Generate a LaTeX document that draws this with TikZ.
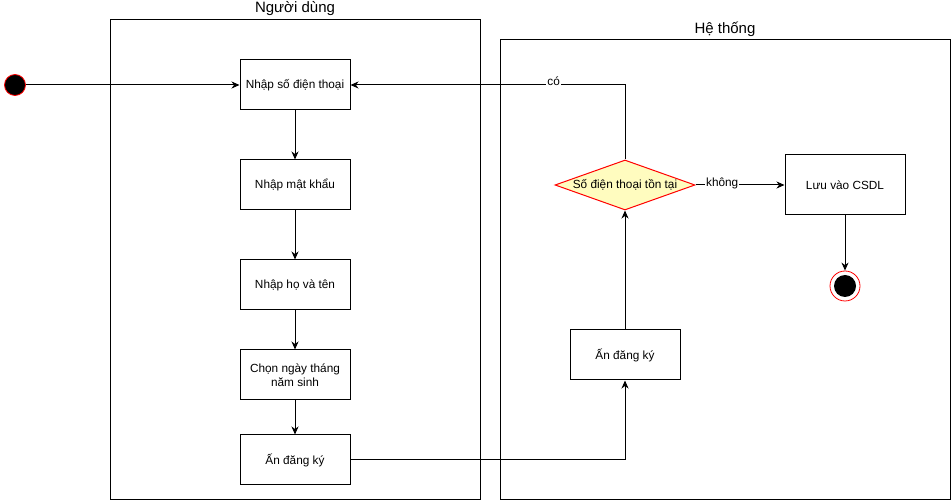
\documentclass[tikz,border=0pt]{standalone}
\usepackage{fontspec}
\setmainfont{Liberation Sans}
\usetikzlibrary{shapes.geometric, arrows.meta}

\begin{document}
\begin{tikzpicture}[x=1pt, y=-1pt, line width=1pt,
    every node/.style={font=\fontsize{11.8}{14}\selectfont},
    act/.style={draw, minimum width=110pt, minimum height=50pt, align=center},
    lane/.style={draw},
    title/.style={font=\fontsize{15}{17}\selectfont},
    lbl/.style={fill=white, inner sep=1pt, font=\fontsize{11.8}{14}\selectfont},
    arr/.style={-{Stealth[length=8pt, width=7pt, inset=2.5pt]}}]
      \useasboundingbox (0, 0) rectangle (951, 502);

      % swimlanes
      \draw[lane] (110, 20) rectangle (480, 500);
      \draw[lane] (500, 40) rectangle (950, 500);
      \node[title] (user) at (295, 9) {Người dùng};
      \node[title] (sys) at (725, 29) {Hệ thống};

      % user side
      \node[circle, draw=red, fill=black, minimum size=21pt, inner sep=0pt, line width=0.8pt] (start) at (15, 85) {};
      \node[act] (phone) at (295, 85) {Nhập số điện thoại};
      \node[act] (pass) at (295, 185) {Nhập mật khẩu};
      \node[act] (name) at (295, 285) {Nhập họ và tên};
      \node[act] (dob) at (295, 375) {Chọn ngày tháng\\năm sinh};
      \node[act] (reg) at (295, 460) {Ấn đăng ký};

      % system side
      \node[act] (sreg) at (625, 355) {Ấn đăng ký};
      \node[diamond, draw=red, fill=yellow!25, aspect=2.8, minimum width=140pt, minimum height=50pt, inner sep=0pt] (check) at (625, 185) {Số điện thoại tồn tại};
      \node[act, minimum width=120pt, minimum height=60pt] (save) at (845, 185) {Lưu vào CSDL};
      \node[circle, draw=red, minimum size=30pt, inner sep=0pt, line width=0.8pt] (end) at (845, 286) {};
      \node[circle, fill=black, minimum size=22pt, inner sep=0pt] (endin) at (845, 286) {};

      \draw[arr] (start) -- (phone);
      \draw[arr] (phone) -- (pass);
      \draw[arr] (pass) -- (name);
      \draw[arr] (name) -- (dob);
      \draw[arr] (dob) -- (reg);
      \draw[arr] (reg) -| (sreg);
      \draw[arr] (sreg) -- (check);
      \draw[arr] (check.north) |- node[lbl, pos=0.63, yshift=4pt] {có} (phone);
      \draw[arr] (check) -- node[lbl, pos=0.3, yshift=2pt] {không} (save);
      \draw[arr] (save) -- (end);
    \end{tikzpicture}
\end{document}
